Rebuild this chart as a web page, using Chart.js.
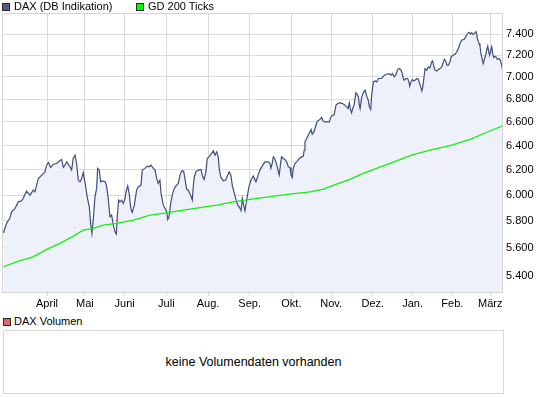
<!DOCTYPE html>
<html>
<head>
<meta charset="utf-8">
<script src="https://cdn.jsdelivr.net/npm/chart.js@4.4.1/dist/chart.umd.min.js"></script>
<style>
html,body{margin:0;padding:0;background:#fff;}
body{width:545px;height:398px;position:relative;overflow:hidden;font-family:"Liberation Sans",Arial,sans-serif;font-size:11px;color:#000;}
.lg{position:absolute;height:13px;line-height:13px;white-space:nowrap;}
.sw{position:absolute;width:6px;height:6px;border:1px solid #2a2a2a;}
#vol{position:absolute;left:3px;top:330px;width:499px;height:62px;border:1px solid #d8d8d8;display:flex;align-items:center;justify-content:center;font-size:12.5px;}
</style>
</head>
<body>
<canvas id="c" width="545" height="315" style="position:absolute;left:0;top:0;"></canvas>
<div id="legend"></div>
<div id="vol"></div>
<script>
// ---- data ----
const seriesNames = ['DAX (DB Indikation)', 'GD 200 Ticks'];
const volumeName = 'DAX Volumen';
const volumeNote = 'keine Volumendaten vorhanden';

// x axis: trading-day index (0 = first day shown)
const monthLabels = ['April','Mai','Juni','Juli','Aug.','Sep.','Okt.','Nov.','Dez.','Jan.','Feb.','März'];
const monthTickDays = [23,43,64,86,108,130,152,173,195,216,237,257];

const yTickValues = [5400,5600,5800,6000,6200,6400,6600,6800,7000,7200,7400];
const yTickLabels = ['5.400','5.600','5.800','6.000','6.200','6.400','6.600','6.800','7.000','7.200','7.400'];

const daxDays = [0,1.7,3.4,4.3,6.1,7.8,9.6,10.5,12.2,14.0,
15.7,16.6,18.4,20.2,21.9,22.8,23.7,24.9,26.3,28.1,
29.5,30.7,31.6,32.5,33.4,35.1,36.0,36.8,37.8,38.6,
39.5,40.4,41.3,42.1,43.0,44.2,45.3,46.0,46.7,47.4,
48.3,49.2,49.7,50.6,51.3,52.4,53.8,54.5,55.3,56.2,
57.1,58.0,58.9,59.6,60.1,60.8,61.5,62.4,63.3,64.2,
64.7,65.6,66.4,67.3,68.0,69.1,70.3,71.0,72.6,73.3,
74.7,75.8,76.8,77.9,79.1,80.0,80.9,81.7,82.6,83.2,
84.4,85.3,86.2,86.7,87.4,88.3,89.1,90.2,91.4,92.3,
93.2,94.1,95.1,95.8,96.7,97.6,98.8,99.7,100.2,100.7,
101.6,102.9,104.3,105.2,105.9,106.9,107.6,108.5,109.6,110.8,
111.7,112.6,113.4,114.0,114.8,116.1,117.3,118.4,119.2,120.1,
120.8,121.7,122.6,123.7,124.5,125.4,126.1,126.8,127.5,128.4,
129.6,130.7,131.9,133.3,134.5,135.4,136.9,138.1,139.8,140.7,
141.2,141.9,142.5,143.4,144.3,145.1,145.6,146.4,146.9,147.7,
148.6,149.5,150.4,151.3,151.8,152.5,153.0,153.9,154.8,156.2,
157.5,158.3,158.8,159.2,160.1,160.9,161.8,162.4,163.0,163.9,
165.0,165.7,167.1,168.0,168.8,169.7,171.0,172.0,172.8,173.6,
174.5,175.6,176.5,177.7,179.1,180.3,181.2,182.0,182.6,183.3,
183.8,184.4,185.1,186.1,186.8,187.4,187.9,188.3,189.2,190.0,
190.9,191.8,192.6,193.2,193.9,194.4,195.3,196.2,197.1,197.9,
199.7,201.1,202.3,203.6,204.6,205.3,206.3,207.1,208.1,209.0,
209.9,210.6,211.1,211.6,212.5,213.4,214.1,214.5,215.2,215.9,
216.6,217.3,218.2,219.1,219.6,220.3,220.9,221.4,221.9,222.6,
223.5,224.3,225.2,226.1,226.6,227.2,227.8,228.7,229.6,230.5,
231.4,232.3,232.8,233.5,234.1,234.9,235.8,236.3,237.5,238.4,
239.3,240.2,241.1,241.9,243.3,244.0,245.1,245.8,246.5,247.2,
248.1,249.0,249.6,250.2,251.1,251.6,252.1,252.8,253.3,253.9,
254.6,255.1,255.7,256.2,256.7,257.3,257.8,258.3,258.9,259.6,
260.3,260.8,261.7,262.4,263.2,263.7];

const daxValues = [5711,5784,5822,5870,5896,5947,5955,5976,6030,5999,
6038,6025,6131,6158,6184,6238,6260,6220,6246,6252,
6273,6285,6220,6238,6265,6225,6198,6293,6320,6252,
6118,6104,6131,6179,6104,5986,5908,5784,5707,5807,
5986,6052,6212,6198,6104,6112,6104,6064,5974,5832,
5845,5769,5719,5702,5832,5960,5947,5960,5934,5974,
6025,6072,6007,5891,5865,5921,6038,6062,6078,6198,
6212,6230,6225,6238,6212,6198,6131,6091,6118,6012,
5921,5896,5870,5812,5832,5934,5999,6052,6078,6091,
6158,6192,6190,6131,6044,6038,5999,5960,6064,6139,
6184,6198,6204,6144,6123,6184,6293,6306,6329,6356,
6320,6348,6306,6198,6139,6112,6118,6158,6184,6158,
6078,6025,5974,5921,5908,5878,5974,5921,5878,5960,
6064,6118,6150,6104,6158,6198,6238,6265,6265,6252,
6212,6252,6306,6285,6238,6184,6158,6265,6306,6293,
6285,6265,6225,6220,6158,6139,6212,6252,6265,6293,
6306,6312,6361,6431,6459,6487,6515,6535,6495,6515,
6572,6607,6622,6639,6607,6601,6601,6601,6639,6658,
6658,6746,6761,6766,6761,6746,6731,6717,6766,6702,
6678,6717,6746,6855,6843,6819,6746,6717,6819,6858,
6879,6826,6790,6731,6708,6834,6954,6963,6954,6985,
6985,7015,7024,7030,7015,7030,7000,7015,7067,7076,
7061,7030,6985,6969,6985,6985,6954,6915,6954,6976,
6963,6969,6985,6976,6945,6909,6873,6909,6976,7076,
7061,7091,7082,7138,7147,7097,7061,7054,7067,7076,
7091,7138,7163,7147,7107,7107,7138,7185,7200,7210,
7232,7264,7313,7342,7352,7375,7409,7419,7400,7415,
7397,7415,7425,7358,7310,7285,7215,7160,7122,7160,
7200,7247,7285,7232,7200,7247,7279,7216,7178,7190,
7178,7160,7169,7153,7097,7045];

const gdDays = [0,8.7,15.7,22.8,29.8,36.9,42.1,47.4,52.7,59.7,68.5,77.4,86.2,94.9,103.8,112.6,121.3,130.2,140.7,151.2,161.8,168.9,175.9,182.9,190.0,198.4,204.1,215.5,225.2,236.7,246.4,255.2,263.5];
const gdValues = [5464,5507,5535,5589,5633,5687,5731,5744,5769,5782,5807,5845,5862,5883,5902,5921,5947,5966,5988,6007,6025,6046,6086,6123,6171,6220,6252,6320,6361,6403,6451,6512,6567];

// ---- styles ----
const FONT = '"Liberation Sans", Arial, sans-serif';
const daxColor = '#3e4d7c';
const daxFill = '#eef1f9';
const gdColor = '#15ee15';
const gridColor = '#dadada';
const swatchColors = ['#4d5d8a', '#00ff00'];
const volumeSwatch = '#e06868';

function pairs(xs, ys) {
  const n = Math.min(xs.length, ys.length);
  const out = [];
  for (let i = 0; i < n; i++) out.push({x: xs[i], y: ys[i]});
  return out;
}

// HTML legends
const legend = document.getElementById('legend');
const legendPos = [[2, 14], [136, 148]];
seriesNames.forEach((name, i) => {
  const sw = document.createElement('div');
  sw.className = 'sw';
  sw.style.left = legendPos[i][0] + 'px';
  sw.style.top = '3px';
  sw.style.background = swatchColors[i];
  legend.appendChild(sw);
  const t = document.createElement('div');
  t.className = 'lg';
  t.style.left = legendPos[i][1] + 'px';
  t.style.top = '0px';
  t.textContent = name;
  legend.appendChild(t);
});
{
  const sw = document.createElement('div');
  sw.className = 'sw';
  sw.style.left = '3px';
  sw.style.top = '318px';
  sw.style.background = volumeSwatch;
  legend.appendChild(sw);
  const t = document.createElement('div');
  t.className = 'lg';
  t.style.left = '14px';
  t.style.top = '315px';
  t.textContent = volumeName;
  legend.appendChild(t);
  document.getElementById('vol').textContent = volumeNote;
}

const framePlugin = {
  id: 'frame',
  afterDraw(chart) {
    const a = chart.chartArea, ctx = chart.ctx;
    ctx.save();
    ctx.strokeStyle = '#d4d4d4';
    ctx.lineWidth = 1;
    ctx.strokeRect(a.left - 0.5, a.top - 0.5, a.right - a.left, a.bottom - a.top);
    ctx.restore();
  }
};

Chart.defaults.font.family = FONT;
Chart.defaults.font.size = 11;
Chart.defaults.color = '#000';

new Chart(document.getElementById('c'), {
  type: 'line',
  data: {
    datasets: [
      {
        label: seriesNames[0],
        data: pairs(daxDays, daxValues),
        borderColor: daxColor,
        backgroundColor: daxFill,
        borderWidth: 1.2,
        pointRadius: 0,
        tension: 0,
        fill: 'start',
        order: 1
      },
      {
        label: seriesNames[1],
        data: pairs(gdDays, gdValues),
        borderColor: gdColor,
        borderWidth: 1.3,
        pointRadius: 0,
        tension: 0,
        fill: false,
        order: 0
      }
    ]
  },
  options: {
    responsive: false,
    animation: false,
    devicePixelRatio: 1,
    layout: { padding: { left: 3, top: 14, right: 0, bottom: 0 } },
    plugins: { legend: { display: false }, tooltip: { enabled: false } },
    scales: {
      x: {
        type: 'linear',
        min: -0.25,
        max: 263.75,
        afterBuildTicks: s => { s.ticks = monthTickDays.map(v => ({ value: v })); },
        afterFit: s => { s.height = 22; },
        grid: { color: gridColor, tickLength: 3, tickColor: gridColor },
        border: { display: false },
        ticks: {
          autoSkip: false, maxRotation: 0, minRotation: 0, padding: 1,
          callback: (v, i) => monthLabels[i]
        }
      },
      y: {
        type: 'logarithmic',
        position: 'right',
        bounds: 'data',
        min: 5280,
        max: 7598,
        afterBuildTicks: s => { s.ticks = yTickValues.map(v => ({ value: v })); },
        afterFit: s => { s.width = 42; },
        grid: { color: gridColor, drawTicks: false },
        border: { display: false },
        ticks: {
          autoSkip: false, padding: 3,
          callback: (v, i) => yTickLabels[i]
        }
      }
    }
  },
  plugins: [framePlugin]
});
</script>
</body>
</html>
